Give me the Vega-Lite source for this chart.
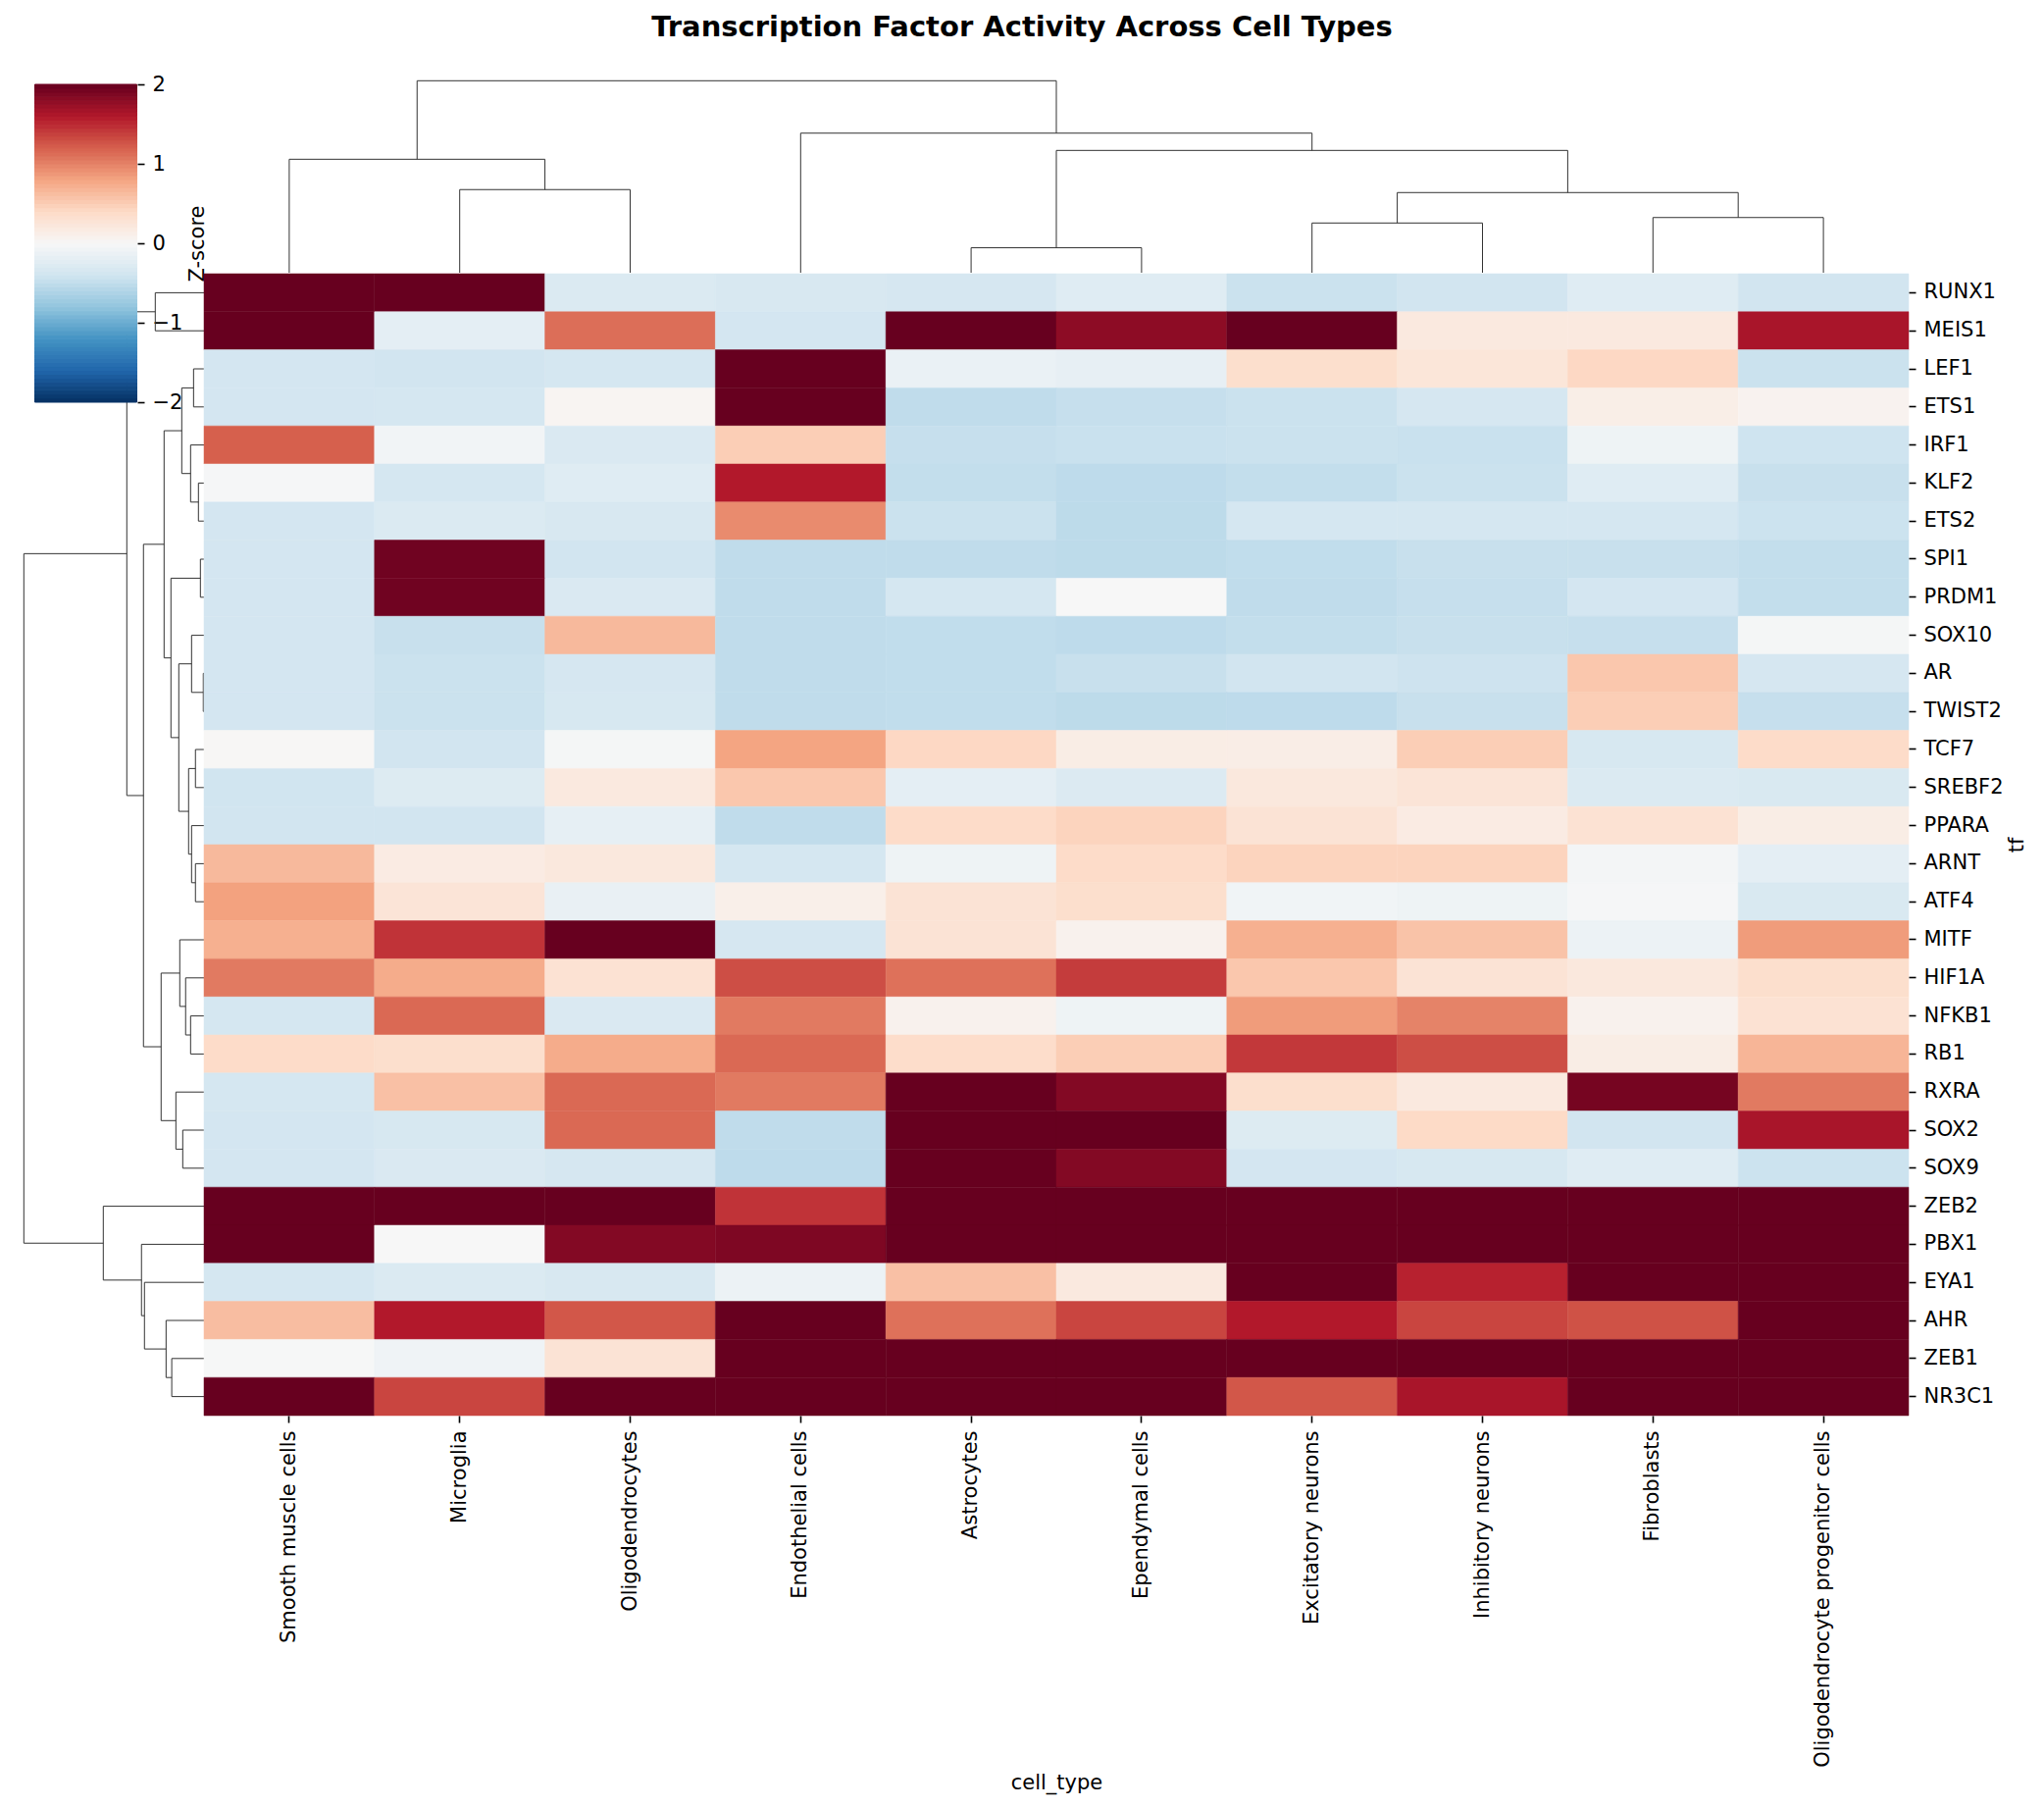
{
  "$schema": "https://vega.github.io/schema/vega-lite/v6.json",
  "description": "Transcription factor activity clustermap.",
  "width": 2084,
  "height": 1843,
  "padding": 0,
  "autosize": {"type": "none"},
  "background": "white",
  "config": {
    "view": {"stroke": null},
    "axis": {"labelFont": "DejaVu Sans", "titleFont": "DejaVu Sans", "labelFontSize": 21, "titleFontSize": 21, "titleFontWeight": "normal", "labelColor": "#000", "titleColor": "#000", "tickColor": "#000", "tickSize": 7, "tickWidth": 1.6, "domain": false, "grid": false, "labelLimit": 800, "labelOverlap": false}
  },
  "title": {"text": "Transcription Factor Activity Across Cell Types", "font": "DejaVu Sans", "fontSize": 29, "fontWeight": "bold", "color": "#000", "anchor": "middle", "frame": "group", "offset": -43, "dx": 0},
  "resolve": {"scale": {"x": "independent", "y": "independent"}, "axis": {"x": "independent", "y": "independent"}},
  "layer": [
    {
      "data": {"values": [
        {"h":2.6,"h1":0,"h2":0,"p1":4.5,"p2":5.5},
        {"h":5.18,"h1":0,"h2":0,"p1":6.5,"p2":7.5},
        {"h":5.75,"h1":0,"h2":0,"p1":8.5,"p2":9.5},
        {"h":8.35,"h1":5.18,"h2":5.75,"p1":7,"p2":9},
        {"h":12.74,"h1":2.6,"h2":8.35,"p1":5,"p2":8},
        {"h":14.54,"h1":0,"h2":12.74,"p1":3.5,"p2":6.5},
        {"h":8.66,"h1":0,"h2":0,"p1":1.5,"p2":2.5},
        {"h":11.82,"h1":0,"h2":8.66,"p1":0.5,"p2":2},
        {"h":20,"h1":11.82,"h2":14.54,"p1":1.25,"p2":5}
      ]},
      "layer": [
        {"mark": {"type": "rule", "color": "#333333", "strokeWidth": 1}, "encoding": {
          "x": {"field": "p1", "type": "quantitative", "scale": {"domain": [0, 10], "range": [208, 1946]}, "axis": null},
          "x2": {"field": "p2"},
          "y": {"field": "h", "type": "quantitative", "scale": {"domain": [0, 20], "range": [278, 82.3]}, "axis": null}
        }},
        {"mark": {"type": "rule", "color": "#333333", "strokeWidth": 1}, "encoding": {
          "x": {"field": "p1", "type": "quantitative", "scale": {"domain": [0, 10], "range": [208, 1946]}, "axis": null},
          "y": {"field": "h1", "type": "quantitative", "scale": {"domain": [0, 20], "range": [278, 82.3]}, "axis": null},
          "y2": {"field": "h"}
        }},
        {"mark": {"type": "rule", "color": "#333333", "strokeWidth": 1}, "encoding": {
          "x": {"field": "p2", "type": "quantitative", "scale": {"domain": [0, 10], "range": [208, 1946]}, "axis": null},
          "y": {"field": "h2", "type": "quantitative", "scale": {"domain": [0, 20], "range": [278, 82.3]}, "axis": null},
          "y2": {"field": "h"}
        }}
      ]
    },
    {
      "data": {"values": [
        {"h":5.41,"h1":0,"h2":0,"p1":0.5,"p2":1.5},
        {"h":1.16,"h1":0,"h2":0,"p1":2.5,"p2":3.5},
        {"h":0.62,"h1":0,"h2":0,"p1":5.5,"p2":6.5},
        {"h":1.49,"h1":0,"h2":0.62,"p1":4.5,"p2":6},
        {"h":2.47,"h1":1.16,"h2":1.49,"p1":3,"p2":5.25},
        {"h":0.4,"h1":0,"h2":0,"p1":7.5,"p2":8.5},
        {"h":0.08,"h1":0,"h2":0,"p1":10.5,"p2":11.5},
        {"h":1.38,"h1":0,"h2":0.08,"p1":9.5,"p2":11},
        {"h":0.95,"h1":0,"h2":0,"p1":12.5,"p2":13.5},
        {"h":0.95,"h1":0,"h2":0,"p1":15.5,"p2":16.5},
        {"h":1.38,"h1":0,"h2":0.95,"p1":14.5,"p2":16},
        {"h":1.71,"h1":0.95,"h2":1.38,"p1":13,"p2":15.25},
        {"h":2.8,"h1":1.38,"h2":1.71,"p1":10.25,"p2":14.125},
        {"h":3.67,"h1":0.4,"h2":2.8,"p1":8,"p2":12.1875},
        {"h":4.43,"h1":2.47,"h2":3.67,"p1":4.125,"p2":10.094},
        {"h":1.49,"h1":0,"h2":0,"p1":19.5,"p2":20.5},
        {"h":2.04,"h1":0,"h2":1.49,"p1":18.5,"p2":20},
        {"h":2.69,"h1":0,"h2":2.04,"p1":17.5,"p2":19.25},
        {"h":2.36,"h1":0,"h2":0,"p1":22.5,"p2":23.5},
        {"h":3.12,"h1":0,"h2":2.36,"p1":21.5,"p2":23},
        {"h":4.76,"h1":2.69,"h2":3.12,"p1":18.375,"p2":22.25},
        {"h":6.72,"h1":4.43,"h2":4.76,"p1":7.109,"p2":20.31},
        {"h":8.57,"h1":5.41,"h2":6.72,"p1":1,"p2":13.71},
        {"h":3.58,"h1":0,"h2":0,"p1":28.5,"p2":29.5},
        {"h":4.21,"h1":0,"h2":3.58,"p1":27.5,"p2":29},
        {"h":6.61,"h1":0,"h2":4.21,"p1":26.5,"p2":28.25},
        {"h":6.94,"h1":0,"h2":6.61,"p1":25.5,"p2":27.375},
        {"h":11.18,"h1":0,"h2":6.94,"p1":24.5,"p2":26.44},
        {"h":20,"h1":8.57,"h2":11.18,"p1":7.355,"p2":25.47}
      ]},
      "layer": [
        {"mark": {"type": "rule", "color": "#333333", "strokeWidth": 1}, "encoding": {
          "x": {"field": "h", "type": "quantitative", "scale": {"domain": [0, 20], "range": [208, 24.3]}, "axis": null},
          "y": {"field": "p1", "type": "quantitative", "scale": {"domain": [0, 30], "range": [279, 1443]}, "axis": null},
          "y2": {"field": "p2"}
        }},
        {"mark": {"type": "rule", "color": "#333333", "strokeWidth": 1}, "encoding": {
          "x": {"field": "h1", "type": "quantitative", "scale": {"domain": [0, 20], "range": [208, 24.3]}, "axis": null},
          "x2": {"field": "h"},
          "y": {"field": "p1", "type": "quantitative", "scale": {"domain": [0, 30], "range": [279, 1443]}, "axis": null}
        }},
        {"mark": {"type": "rule", "color": "#333333", "strokeWidth": 1}, "encoding": {
          "x": {"field": "h2", "type": "quantitative", "scale": {"domain": [0, 20], "range": [208, 24.3]}, "axis": null},
          "x2": {"field": "h"},
          "y": {"field": "p2", "type": "quantitative", "scale": {"domain": [0, 30], "range": [279, 1443]}, "axis": null}
        }}
      ]
    },
    {
      "data": {"values": [
        {"lo":-2,"hi":-1.95,"v":-1.975},{"lo":-1.95,"hi":-1.9,"v":-1.925},{"lo":-1.9,"hi":-1.85,"v":-1.875},{"lo":-1.85,"hi":-1.8,"v":-1.825},
        {"lo":-1.8,"hi":-1.75,"v":-1.775},{"lo":-1.75,"hi":-1.7,"v":-1.725},{"lo":-1.7,"hi":-1.65,"v":-1.675},{"lo":-1.65,"hi":-1.6,"v":-1.625},
        {"lo":-1.6,"hi":-1.55,"v":-1.575},{"lo":-1.55,"hi":-1.5,"v":-1.525},{"lo":-1.5,"hi":-1.45,"v":-1.475},{"lo":-1.45,"hi":-1.4,"v":-1.425},
        {"lo":-1.4,"hi":-1.35,"v":-1.375},{"lo":-1.35,"hi":-1.3,"v":-1.325},{"lo":-1.3,"hi":-1.25,"v":-1.275},{"lo":-1.25,"hi":-1.2,"v":-1.225},
        {"lo":-1.2,"hi":-1.15,"v":-1.175},{"lo":-1.15,"hi":-1.1,"v":-1.125},{"lo":-1.1,"hi":-1.05,"v":-1.075},{"lo":-1.05,"hi":-1,"v":-1.025},
        {"lo":-1,"hi":-0.95,"v":-0.975},{"lo":-0.95,"hi":-0.9,"v":-0.925},{"lo":-0.9,"hi":-0.85,"v":-0.875},{"lo":-0.85,"hi":-0.8,"v":-0.825},
        {"lo":-0.8,"hi":-0.75,"v":-0.775},{"lo":-0.75,"hi":-0.7,"v":-0.725},{"lo":-0.7,"hi":-0.65,"v":-0.675},{"lo":-0.65,"hi":-0.6,"v":-0.625},
        {"lo":-0.6,"hi":-0.55,"v":-0.575},{"lo":-0.55,"hi":-0.5,"v":-0.525},{"lo":-0.5,"hi":-0.45,"v":-0.475},{"lo":-0.45,"hi":-0.4,"v":-0.425},
        {"lo":-0.4,"hi":-0.35,"v":-0.375},{"lo":-0.35,"hi":-0.3,"v":-0.325},{"lo":-0.3,"hi":-0.25,"v":-0.275},{"lo":-0.25,"hi":-0.2,"v":-0.225},
        {"lo":-0.2,"hi":-0.15,"v":-0.175},{"lo":-0.15,"hi":-0.1,"v":-0.125},{"lo":-0.1,"hi":-0.05,"v":-0.075},{"lo":-0.05,"hi":0,"v":-0.025},
        {"lo":0,"hi":0.05,"v":0.025},{"lo":0.05,"hi":0.1,"v":0.075},{"lo":0.1,"hi":0.15,"v":0.125},{"lo":0.15,"hi":0.2,"v":0.175},
        {"lo":0.2,"hi":0.25,"v":0.225},{"lo":0.25,"hi":0.3,"v":0.275},{"lo":0.3,"hi":0.35,"v":0.325},{"lo":0.35,"hi":0.4,"v":0.375},
        {"lo":0.4,"hi":0.45,"v":0.425},{"lo":0.45,"hi":0.5,"v":0.475},{"lo":0.5,"hi":0.55,"v":0.525},{"lo":0.55,"hi":0.6,"v":0.575},
        {"lo":0.6,"hi":0.65,"v":0.625},{"lo":0.65,"hi":0.7,"v":0.675},{"lo":0.7,"hi":0.75,"v":0.725},{"lo":0.75,"hi":0.8,"v":0.775},
        {"lo":0.8,"hi":0.85,"v":0.825},{"lo":0.85,"hi":0.9,"v":0.875},{"lo":0.9,"hi":0.95,"v":0.925},{"lo":0.95,"hi":1,"v":0.975},
        {"lo":1,"hi":1.05,"v":1.025},{"lo":1.05,"hi":1.1,"v":1.075},{"lo":1.1,"hi":1.15,"v":1.125},{"lo":1.15,"hi":1.2,"v":1.175},
        {"lo":1.2,"hi":1.25,"v":1.225},{"lo":1.25,"hi":1.3,"v":1.275},{"lo":1.3,"hi":1.35,"v":1.325},{"lo":1.35,"hi":1.4,"v":1.375},
        {"lo":1.4,"hi":1.45,"v":1.425},{"lo":1.45,"hi":1.5,"v":1.475},{"lo":1.5,"hi":1.55,"v":1.525},{"lo":1.55,"hi":1.6,"v":1.575},
        {"lo":1.6,"hi":1.65,"v":1.625},{"lo":1.65,"hi":1.7,"v":1.675},{"lo":1.7,"hi":1.75,"v":1.725},{"lo":1.75,"hi":1.8,"v":1.775},
        {"lo":1.8,"hi":1.85,"v":1.825},{"lo":1.85,"hi":1.9,"v":1.875},{"lo":1.9,"hi":1.95,"v":1.925},{"lo":1.95,"hi":2,"v":1.975}
      ]},
      "mark": {"type": "rect", "strokeWidth": 1, "opacity": 1},
      "encoding": {
        "x": {"datum": 0, "type": "quantitative", "scale": {"domain": [0, 1], "range": [35.5, 139.5]}, "axis": null},
        "x2": {"datum": 1},
        "y": {"field": "lo", "type": "quantitative", "scale": {"domain": [-2, 2], "range": [410, 86]}, "axis": {"orient": "right", "offset": -1944, "values": [-2, -1, 0, 1, 2], "format": "d", "title": "Z-score", "titleAngle": 270, "titlePadding": 26, "labelPadding": 8}},
        "y2": {"field": "hi"},
        "color": {"field": "v", "type": "quantitative", "scale": {"domain": [-2,-1.6,-1.2,-0.8,-0.4,0,0.4,0.8,1.2,1.6,2], "range": ["#053061","#2166ac","#4393c3","#92c5de","#d1e5f0","#f7f7f7","#fddbc7","#f4a582","#d6604d","#b2182b","#67001f"], "interpolate": "rgb", "clamp": true}, "legend": null},
        "stroke": {"field": "v", "type": "quantitative", "scale": {"domain": [-2,-1.6,-1.2,-0.8,-0.4,0,0.4,0.8,1.2,1.6,2], "range": ["#053061","#2166ac","#4393c3","#92c5de","#d1e5f0","#f7f7f7","#fddbc7","#f4a582","#d6604d","#b2182b","#67001f"], "interpolate": "rgb", "clamp": true}, "legend": null}
      }
    },
    {
      "data": {"values": [
        {"cell_type":"Smooth muscle cells","tf":"RUNX1","z":2.5},{"cell_type":"Microglia","tf":"RUNX1","z":2.5},{"cell_type":"Oligodendrocytes","tf":"RUNX1","z":-0.3},{"cell_type":"Endothelial cells","tf":"RUNX1","z":-0.33},{"cell_type":"Astrocytes","tf":"RUNX1","z":-0.35},{"cell_type":"Ependymal cells","tf":"RUNX1","z":-0.25},{"cell_type":"Excitatory neurons","tf":"RUNX1","z":-0.44},{"cell_type":"Inhibitory neurons","tf":"RUNX1","z":-0.39},{"cell_type":"Fibroblasts","tf":"RUNX1","z":-0.25},{"cell_type":"Oligodendrocyte progenitor cells","tf":"RUNX1","z":-0.39},
        {"cell_type":"Smooth muscle cells","tf":"MEIS1","z":2.5},{"cell_type":"Microglia","tf":"MEIS1","z":-0.2},{"cell_type":"Oligodendrocytes","tf":"MEIS1","z":1.12},{"cell_type":"Endothelial cells","tf":"MEIS1","z":-0.37},{"cell_type":"Astrocytes","tf":"MEIS1","z":2.2},{"cell_type":"Ependymal cells","tf":"MEIS1","z":1.8},{"cell_type":"Excitatory neurons","tf":"MEIS1","z":2.1},{"cell_type":"Inhibitory neurons","tf":"MEIS1","z":0.2},{"cell_type":"Fibroblasts","tf":"MEIS1","z":0.2},{"cell_type":"Oligodendrocyte progenitor cells","tf":"MEIS1","z":1.65},
        {"cell_type":"Smooth muscle cells","tf":"LEF1","z":-0.37},{"cell_type":"Microglia","tf":"LEF1","z":-0.39},{"cell_type":"Oligodendrocytes","tf":"LEF1","z":-0.36},{"cell_type":"Endothelial cells","tf":"LEF1","z":2.5},{"cell_type":"Astrocytes","tf":"LEF1","z":-0.14},{"cell_type":"Ependymal cells","tf":"LEF1","z":-0.17},{"cell_type":"Excitatory neurons","tf":"LEF1","z":0.35},{"cell_type":"Inhibitory neurons","tf":"LEF1","z":0.25},{"cell_type":"Fibroblasts","tf":"LEF1","z":0.42},{"cell_type":"Oligodendrocyte progenitor cells","tf":"LEF1","z":-0.44},
        {"cell_type":"Smooth muscle cells","tf":"ETS1","z":-0.37},{"cell_type":"Microglia","tf":"ETS1","z":-0.36},{"cell_type":"Oligodendrocytes","tf":"ETS1","z":0.04},{"cell_type":"Endothelial cells","tf":"ETS1","z":2.5},{"cell_type":"Astrocytes","tf":"ETS1","z":-0.51},{"cell_type":"Ependymal cells","tf":"ETS1","z":-0.47},{"cell_type":"Excitatory neurons","tf":"ETS1","z":-0.44},{"cell_type":"Inhibitory neurons","tf":"ETS1","z":-0.35},{"cell_type":"Fibroblasts","tf":"ETS1","z":0.13},{"cell_type":"Oligodendrocyte progenitor cells","tf":"ETS1","z":0.07},
        {"cell_type":"Smooth muscle cells","tf":"IRF1","z":1.2},{"cell_type":"Microglia","tf":"IRF1","z":-0.06},{"cell_type":"Oligodendrocytes","tf":"IRF1","z":-0.31},{"cell_type":"Endothelial cells","tf":"IRF1","z":0.5},{"cell_type":"Astrocytes","tf":"IRF1","z":-0.47},{"cell_type":"Ependymal cells","tf":"IRF1","z":-0.45},{"cell_type":"Excitatory neurons","tf":"IRF1","z":-0.44},{"cell_type":"Inhibitory neurons","tf":"IRF1","z":-0.45},{"cell_type":"Fibroblasts","tf":"IRF1","z":-0.1},{"cell_type":"Oligodendrocyte progenitor cells","tf":"IRF1","z":-0.41},
        {"cell_type":"Smooth muscle cells","tf":"KLF2","z":-0.02},{"cell_type":"Microglia","tf":"KLF2","z":-0.36},{"cell_type":"Oligodendrocytes","tf":"KLF2","z":-0.25},{"cell_type":"Endothelial cells","tf":"KLF2","z":1.6},{"cell_type":"Astrocytes","tf":"KLF2","z":-0.49},{"cell_type":"Ependymal cells","tf":"KLF2","z":-0.52},{"cell_type":"Excitatory neurons","tf":"KLF2","z":-0.49},{"cell_type":"Inhibitory neurons","tf":"KLF2","z":-0.44},{"cell_type":"Fibroblasts","tf":"KLF2","z":-0.25},{"cell_type":"Oligodendrocyte progenitor cells","tf":"KLF2","z":-0.46},
        {"cell_type":"Smooth muscle cells","tf":"ETS2","z":-0.37},{"cell_type":"Microglia","tf":"ETS2","z":-0.3},{"cell_type":"Oligodendrocytes","tf":"ETS2","z":-0.33},{"cell_type":"Endothelial cells","tf":"ETS2","z":0.95},{"cell_type":"Astrocytes","tf":"ETS2","z":-0.44},{"cell_type":"Ependymal cells","tf":"ETS2","z":-0.53},{"cell_type":"Excitatory neurons","tf":"ETS2","z":-0.36},{"cell_type":"Inhibitory neurons","tf":"ETS2","z":-0.36},{"cell_type":"Fibroblasts","tf":"ETS2","z":-0.36},{"cell_type":"Oligodendrocyte progenitor cells","tf":"ETS2","z":-0.43},
        {"cell_type":"Smooth muscle cells","tf":"SPI1","z":-0.37},{"cell_type":"Microglia","tf":"SPI1","z":1.95},{"cell_type":"Oligodendrocytes","tf":"SPI1","z":-0.39},{"cell_type":"Endothelial cells","tf":"SPI1","z":-0.51},{"cell_type":"Astrocytes","tf":"SPI1","z":-0.51},{"cell_type":"Ependymal cells","tf":"SPI1","z":-0.53},{"cell_type":"Excitatory neurons","tf":"SPI1","z":-0.5},{"cell_type":"Inhibitory neurons","tf":"SPI1","z":-0.46},{"cell_type":"Fibroblasts","tf":"SPI1","z":-0.46},{"cell_type":"Oligodendrocyte progenitor cells","tf":"SPI1","z":-0.49},
        {"cell_type":"Smooth muscle cells","tf":"PRDM1","z":-0.37},{"cell_type":"Microglia","tf":"PRDM1","z":1.95},{"cell_type":"Oligodendrocytes","tf":"PRDM1","z":-0.31},{"cell_type":"Endothelial cells","tf":"PRDM1","z":-0.51},{"cell_type":"Astrocytes","tf":"PRDM1","z":-0.36},{"cell_type":"Ependymal cells","tf":"PRDM1","z":0},{"cell_type":"Excitatory neurons","tf":"PRDM1","z":-0.51},{"cell_type":"Inhibitory neurons","tf":"PRDM1","z":-0.47},{"cell_type":"Fibroblasts","tf":"PRDM1","z":-0.37},{"cell_type":"Oligodendrocyte progenitor cells","tf":"PRDM1","z":-0.49},
        {"cell_type":"Smooth muscle cells","tf":"SOX10","z":-0.37},{"cell_type":"Microglia","tf":"SOX10","z":-0.46},{"cell_type":"Oligodendrocytes","tf":"SOX10","z":0.65},{"cell_type":"Endothelial cells","tf":"SOX10","z":-0.51},{"cell_type":"Astrocytes","tf":"SOX10","z":-0.5},{"cell_type":"Ependymal cells","tf":"SOX10","z":-0.52},{"cell_type":"Excitatory neurons","tf":"SOX10","z":-0.49},{"cell_type":"Inhibitory neurons","tf":"SOX10","z":-0.46},{"cell_type":"Fibroblasts","tf":"SOX10","z":-0.47},{"cell_type":"Oligodendrocyte progenitor cells","tf":"SOX10","z":-0.03},
        {"cell_type":"Smooth muscle cells","tf":"AR","z":-0.37},{"cell_type":"Microglia","tf":"AR","z":-0.44},{"cell_type":"Oligodendrocytes","tf":"AR","z":-0.35},{"cell_type":"Endothelial cells","tf":"AR","z":-0.51},{"cell_type":"Astrocytes","tf":"AR","z":-0.5},{"cell_type":"Ependymal cells","tf":"AR","z":-0.46},{"cell_type":"Excitatory neurons","tf":"AR","z":-0.39},{"cell_type":"Inhibitory neurons","tf":"AR","z":-0.42},{"cell_type":"Fibroblasts","tf":"AR","z":0.55},{"cell_type":"Oligodendrocyte progenitor cells","tf":"AR","z":-0.35},
        {"cell_type":"Smooth muscle cells","tf":"TWIST2","z":-0.37},{"cell_type":"Microglia","tf":"TWIST2","z":-0.44},{"cell_type":"Oligodendrocytes","tf":"TWIST2","z":-0.34},{"cell_type":"Endothelial cells","tf":"TWIST2","z":-0.51},{"cell_type":"Astrocytes","tf":"TWIST2","z":-0.5},{"cell_type":"Ependymal cells","tf":"TWIST2","z":-0.53},{"cell_type":"Excitatory neurons","tf":"TWIST2","z":-0.52},{"cell_type":"Inhibitory neurons","tf":"TWIST2","z":-0.46},{"cell_type":"Fibroblasts","tf":"TWIST2","z":0.5},{"cell_type":"Oligodendrocyte progenitor cells","tf":"TWIST2","z":-0.47},
        {"cell_type":"Smooth muscle cells","tf":"TCF7","z":0.02},{"cell_type":"Microglia","tf":"TCF7","z":-0.39},{"cell_type":"Oligodendrocytes","tf":"TCF7","z":-0.03},{"cell_type":"Endothelial cells","tf":"TCF7","z":0.8},{"cell_type":"Astrocytes","tf":"TCF7","z":0.42},{"cell_type":"Ependymal cells","tf":"TCF7","z":0.15},{"cell_type":"Excitatory neurons","tf":"TCF7","z":0.14},{"cell_type":"Inhibitory neurons","tf":"TCF7","z":0.5},{"cell_type":"Fibroblasts","tf":"TCF7","z":-0.34},{"cell_type":"Oligodendrocyte progenitor cells","tf":"TCF7","z":0.38},
        {"cell_type":"Smooth muscle cells","tf":"SREBF2","z":-0.4},{"cell_type":"Microglia","tf":"SREBF2","z":-0.27},{"cell_type":"Oligodendrocytes","tf":"SREBF2","z":0.2},{"cell_type":"Endothelial cells","tf":"SREBF2","z":0.55},{"cell_type":"Astrocytes","tf":"SREBF2","z":-0.2},{"cell_type":"Ependymal cells","tf":"SREBF2","z":-0.28},{"cell_type":"Excitatory neurons","tf":"SREBF2","z":0.22},{"cell_type":"Inhibitory neurons","tf":"SREBF2","z":0.27},{"cell_type":"Fibroblasts","tf":"SREBF2","z":-0.29},{"cell_type":"Oligodendrocyte progenitor cells","tf":"SREBF2","z":-0.32},
        {"cell_type":"Smooth muscle cells","tf":"PPARA","z":-0.39},{"cell_type":"Microglia","tf":"PPARA","z":-0.39},{"cell_type":"Oligodendrocytes","tf":"PPARA","z":-0.18},{"cell_type":"Endothelial cells","tf":"PPARA","z":-0.51},{"cell_type":"Astrocytes","tf":"PPARA","z":0.38},{"cell_type":"Ependymal cells","tf":"PPARA","z":0.45},{"cell_type":"Excitatory neurons","tf":"PPARA","z":0.28},{"cell_type":"Inhibitory neurons","tf":"PPARA","z":0.17},{"cell_type":"Fibroblasts","tf":"PPARA","z":0.3},{"cell_type":"Oligodendrocyte progenitor cells","tf":"PPARA","z":0.15},
        {"cell_type":"Smooth muscle cells","tf":"ARNT","z":0.65},{"cell_type":"Microglia","tf":"ARNT","z":0.17},{"cell_type":"Oligodendrocytes","tf":"ARNT","z":0.22},{"cell_type":"Endothelial cells","tf":"ARNT","z":-0.36},{"cell_type":"Astrocytes","tf":"ARNT","z":-0.1},{"cell_type":"Ependymal cells","tf":"ARNT","z":0.38},{"cell_type":"Excitatory neurons","tf":"ARNT","z":0.45},{"cell_type":"Inhibitory neurons","tf":"ARNT","z":0.45},{"cell_type":"Fibroblasts","tf":"ARNT","z":-0.04},{"cell_type":"Oligodendrocyte progenitor cells","tf":"ARNT","z":-0.2},
        {"cell_type":"Smooth muscle cells","tf":"ATF4","z":0.82},{"cell_type":"Microglia","tf":"ATF4","z":0.27},{"cell_type":"Oligodendrocytes","tf":"ATF4","z":-0.15},{"cell_type":"Endothelial cells","tf":"ATF4","z":0.12},{"cell_type":"Astrocytes","tf":"ATF4","z":0.28},{"cell_type":"Ependymal cells","tf":"ATF4","z":0.35},{"cell_type":"Excitatory neurons","tf":"ATF4","z":-0.07},{"cell_type":"Inhibitory neurons","tf":"ATF4","z":-0.09},{"cell_type":"Fibroblasts","tf":"ATF4","z":-0.02},{"cell_type":"Oligodendrocyte progenitor cells","tf":"ATF4","z":-0.32},
        {"cell_type":"Smooth muscle cells","tf":"MITF","z":0.72},{"cell_type":"Microglia","tf":"MITF","z":1.45},{"cell_type":"Oligodendrocytes","tf":"MITF","z":2.2},{"cell_type":"Endothelial cells","tf":"MITF","z":-0.35},{"cell_type":"Astrocytes","tf":"MITF","z":0.28},{"cell_type":"Ependymal cells","tf":"MITF","z":0.08},{"cell_type":"Excitatory neurons","tf":"MITF","z":0.72},{"cell_type":"Inhibitory neurons","tf":"MITF","z":0.58},{"cell_type":"Fibroblasts","tf":"MITF","z":-0.12},{"cell_type":"Oligodendrocyte progenitor cells","tf":"MITF","z":0.85},
        {"cell_type":"Smooth muscle cells","tf":"HIF1A","z":1.05},{"cell_type":"Microglia","tf":"HIF1A","z":0.75},{"cell_type":"Oligodendrocytes","tf":"HIF1A","z":0.3},{"cell_type":"Endothelial cells","tf":"HIF1A","z":1.3},{"cell_type":"Astrocytes","tf":"HIF1A","z":1.1},{"cell_type":"Ependymal cells","tf":"HIF1A","z":1.4},{"cell_type":"Excitatory neurons","tf":"HIF1A","z":0.55},{"cell_type":"Inhibitory neurons","tf":"HIF1A","z":0.28},{"cell_type":"Fibroblasts","tf":"HIF1A","z":0.22},{"cell_type":"Oligodendrocyte progenitor cells","tf":"HIF1A","z":0.35},
        {"cell_type":"Smooth muscle cells","tf":"NFKB1","z":-0.36},{"cell_type":"Microglia","tf":"NFKB1","z":1.15},{"cell_type":"Oligodendrocytes","tf":"NFKB1","z":-0.31},{"cell_type":"Endothelial cells","tf":"NFKB1","z":1.05},{"cell_type":"Astrocytes","tf":"NFKB1","z":0.08},{"cell_type":"Ependymal cells","tf":"NFKB1","z":-0.1},{"cell_type":"Excitatory neurons","tf":"NFKB1","z":0.85},{"cell_type":"Inhibitory neurons","tf":"NFKB1","z":1},{"cell_type":"Fibroblasts","tf":"NFKB1","z":0.08},{"cell_type":"Oligodendrocyte progenitor cells","tf":"NFKB1","z":0.3},
        {"cell_type":"Smooth muscle cells","tf":"RB1","z":0.38},{"cell_type":"Microglia","tf":"RB1","z":0.35},{"cell_type":"Oligodendrocytes","tf":"RB1","z":0.75},{"cell_type":"Endothelial cells","tf":"RB1","z":1.15},{"cell_type":"Astrocytes","tf":"RB1","z":0.37},{"cell_type":"Ependymal cells","tf":"RB1","z":0.5},{"cell_type":"Excitatory neurons","tf":"RB1","z":1.42},{"cell_type":"Inhibitory neurons","tf":"RB1","z":1.3},{"cell_type":"Fibroblasts","tf":"RB1","z":0.15},{"cell_type":"Oligodendrocyte progenitor cells","tf":"RB1","z":0.68},
        {"cell_type":"Smooth muscle cells","tf":"RXRA","z":-0.36},{"cell_type":"Microglia","tf":"RXRA","z":0.6},{"cell_type":"Oligodendrocytes","tf":"RXRA","z":1.15},{"cell_type":"Endothelial cells","tf":"RXRA","z":1.05},{"cell_type":"Astrocytes","tf":"RXRA","z":2.1},{"cell_type":"Ependymal cells","tf":"RXRA","z":1.85},{"cell_type":"Excitatory neurons","tf":"RXRA","z":0.35},{"cell_type":"Inhibitory neurons","tf":"RXRA","z":0.2},{"cell_type":"Fibroblasts","tf":"RXRA","z":1.92},{"cell_type":"Oligodendrocyte progenitor cells","tf":"RXRA","z":1.05},
        {"cell_type":"Smooth muscle cells","tf":"SOX2","z":-0.37},{"cell_type":"Microglia","tf":"SOX2","z":-0.34},{"cell_type":"Oligodendrocytes","tf":"SOX2","z":1.15},{"cell_type":"Endothelial cells","tf":"SOX2","z":-0.51},{"cell_type":"Astrocytes","tf":"SOX2","z":2.6},{"cell_type":"Ependymal cells","tf":"SOX2","z":2.1},{"cell_type":"Excitatory neurons","tf":"SOX2","z":-0.27},{"cell_type":"Inhibitory neurons","tf":"SOX2","z":0.4},{"cell_type":"Fibroblasts","tf":"SOX2","z":-0.39},{"cell_type":"Oligodendrocyte progenitor cells","tf":"SOX2","z":1.65},
        {"cell_type":"Smooth muscle cells","tf":"SOX9","z":-0.37},{"cell_type":"Microglia","tf":"SOX9","z":-0.31},{"cell_type":"Oligodendrocytes","tf":"SOX9","z":-0.35},{"cell_type":"Endothelial cells","tf":"SOX9","z":-0.52},{"cell_type":"Astrocytes","tf":"SOX9","z":2.4},{"cell_type":"Ependymal cells","tf":"SOX9","z":1.85},{"cell_type":"Excitatory neurons","tf":"SOX9","z":-0.37},{"cell_type":"Inhibitory neurons","tf":"SOX9","z":-0.34},{"cell_type":"Fibroblasts","tf":"SOX9","z":-0.25},{"cell_type":"Oligodendrocyte progenitor cells","tf":"SOX9","z":-0.43},
        {"cell_type":"Smooth muscle cells","tf":"ZEB2","z":3},{"cell_type":"Microglia","tf":"ZEB2","z":2.5},{"cell_type":"Oligodendrocytes","tf":"ZEB2","z":2.2},{"cell_type":"Endothelial cells","tf":"ZEB2","z":1.45},{"cell_type":"Astrocytes","tf":"ZEB2","z":3},{"cell_type":"Ependymal cells","tf":"ZEB2","z":3},{"cell_type":"Excitatory neurons","tf":"ZEB2","z":3},{"cell_type":"Inhibitory neurons","tf":"ZEB2","z":3},{"cell_type":"Fibroblasts","tf":"ZEB2","z":3},{"cell_type":"Oligodendrocyte progenitor cells","tf":"ZEB2","z":3},
        {"cell_type":"Smooth muscle cells","tf":"PBX1","z":2.5},{"cell_type":"Microglia","tf":"PBX1","z":0},{"cell_type":"Oligodendrocytes","tf":"PBX1","z":1.85},{"cell_type":"Endothelial cells","tf":"PBX1","z":1.88},{"cell_type":"Astrocytes","tf":"PBX1","z":3},{"cell_type":"Ependymal cells","tf":"PBX1","z":3},{"cell_type":"Excitatory neurons","tf":"PBX1","z":3},{"cell_type":"Inhibitory neurons","tf":"PBX1","z":3},{"cell_type":"Fibroblasts","tf":"PBX1","z":3},{"cell_type":"Oligodendrocyte progenitor cells","tf":"PBX1","z":3},
        {"cell_type":"Smooth muscle cells","tf":"EYA1","z":-0.36},{"cell_type":"Microglia","tf":"EYA1","z":-0.3},{"cell_type":"Oligodendrocytes","tf":"EYA1","z":-0.33},{"cell_type":"Endothelial cells","tf":"EYA1","z":-0.12},{"cell_type":"Astrocytes","tf":"EYA1","z":0.6},{"cell_type":"Ependymal cells","tf":"EYA1","z":0.2},{"cell_type":"Excitatory neurons","tf":"EYA1","z":2.3},{"cell_type":"Inhibitory neurons","tf":"EYA1","z":1.55},{"cell_type":"Fibroblasts","tf":"EYA1","z":2.6},{"cell_type":"Oligodendrocyte progenitor cells","tf":"EYA1","z":2.6},
        {"cell_type":"Smooth muscle cells","tf":"AHR","z":0.62},{"cell_type":"Microglia","tf":"AHR","z":1.6},{"cell_type":"Oligodendrocytes","tf":"AHR","z":1.25},{"cell_type":"Endothelial cells","tf":"AHR","z":2.5},{"cell_type":"Astrocytes","tf":"AHR","z":1.1},{"cell_type":"Ependymal cells","tf":"AHR","z":1.35},{"cell_type":"Excitatory neurons","tf":"AHR","z":1.6},{"cell_type":"Inhibitory neurons","tf":"AHR","z":1.35},{"cell_type":"Fibroblasts","tf":"AHR","z":1.28},{"cell_type":"Oligodendrocyte progenitor cells","tf":"AHR","z":2.4},
        {"cell_type":"Smooth muscle cells","tf":"ZEB1","z":-0.01},{"cell_type":"Microglia","tf":"ZEB1","z":-0.08},{"cell_type":"Oligodendrocytes","tf":"ZEB1","z":0.28},{"cell_type":"Endothelial cells","tf":"ZEB1","z":3},{"cell_type":"Astrocytes","tf":"ZEB1","z":3},{"cell_type":"Ependymal cells","tf":"ZEB1","z":3},{"cell_type":"Excitatory neurons","tf":"ZEB1","z":3},{"cell_type":"Inhibitory neurons","tf":"ZEB1","z":3},{"cell_type":"Fibroblasts","tf":"ZEB1","z":3},{"cell_type":"Oligodendrocyte progenitor cells","tf":"ZEB1","z":3},
        {"cell_type":"Smooth muscle cells","tf":"NR3C1","z":2.5},{"cell_type":"Microglia","tf":"NR3C1","z":1.35},{"cell_type":"Oligodendrocytes","tf":"NR3C1","z":2.5},{"cell_type":"Endothelial cells","tf":"NR3C1","z":3},{"cell_type":"Astrocytes","tf":"NR3C1","z":3},{"cell_type":"Ependymal cells","tf":"NR3C1","z":3},{"cell_type":"Excitatory neurons","tf":"NR3C1","z":1.25},{"cell_type":"Inhibitory neurons","tf":"NR3C1","z":1.65},{"cell_type":"Fibroblasts","tf":"NR3C1","z":3},{"cell_type":"Oligodendrocyte progenitor cells","tf":"NR3C1","z":3}
      ]},
      "mark": {"type": "rect", "opacity": 1, "strokeWidth": 0.5},
      "encoding": {
        "x": {"field": "cell_type", "type": "nominal", "sort": ["Smooth muscle cells","Microglia","Oligodendrocytes","Endothelial cells","Astrocytes","Ependymal cells","Excitatory neurons","Inhibitory neurons","Fibroblasts","Oligodendrocyte progenitor cells"], "scale": {"range": [208, 1946], "paddingInner": 0, "paddingOuter": 0}, "axis": {"orient": "bottom", "offset": -400, "title": "cell_type", "labelAngle": 270, "labelPadding": 8, "titlePadding": 163}},
        "y": {"field": "tf", "type": "nominal", "sort": ["RUNX1","MEIS1","LEF1","ETS1","IRF1","KLF2","ETS2","SPI1","PRDM1","SOX10","AR","TWIST2","TCF7","SREBF2","PPARA","ARNT","ATF4","MITF","HIF1A","NFKB1","RB1","RXRA","SOX2","SOX9","ZEB2","PBX1","EYA1","AHR","ZEB1","NR3C1"], "scale": {"range": [279, 1443], "paddingInner": 0, "paddingOuter": 0}, "axis": {"orient": "right", "offset": -138, "title": "tf", "titleAngle": 270, "labelPadding": 8, "titlePadding": 24}},
        "color": {"field": "z", "type": "quantitative", "scale": {"domain": [-2,-1.6,-1.2,-0.8,-0.4,0,0.4,0.8,1.2,1.6,2], "range": ["#053061","#2166ac","#4393c3","#92c5de","#d1e5f0","#f7f7f7","#fddbc7","#f4a582","#d6604d","#b2182b","#67001f"], "interpolate": "rgb", "clamp": true}, "legend": null},
        "stroke": {"field": "z", "type": "quantitative", "scale": {"domain": [-2,-1.6,-1.2,-0.8,-0.4,0,0.4,0.8,1.2,1.6,2], "range": ["#053061","#2166ac","#4393c3","#92c5de","#d1e5f0","#f7f7f7","#fddbc7","#f4a582","#d6604d","#b2182b","#67001f"], "interpolate": "rgb", "clamp": true}, "legend": null}
      }
    }
  ]
}
